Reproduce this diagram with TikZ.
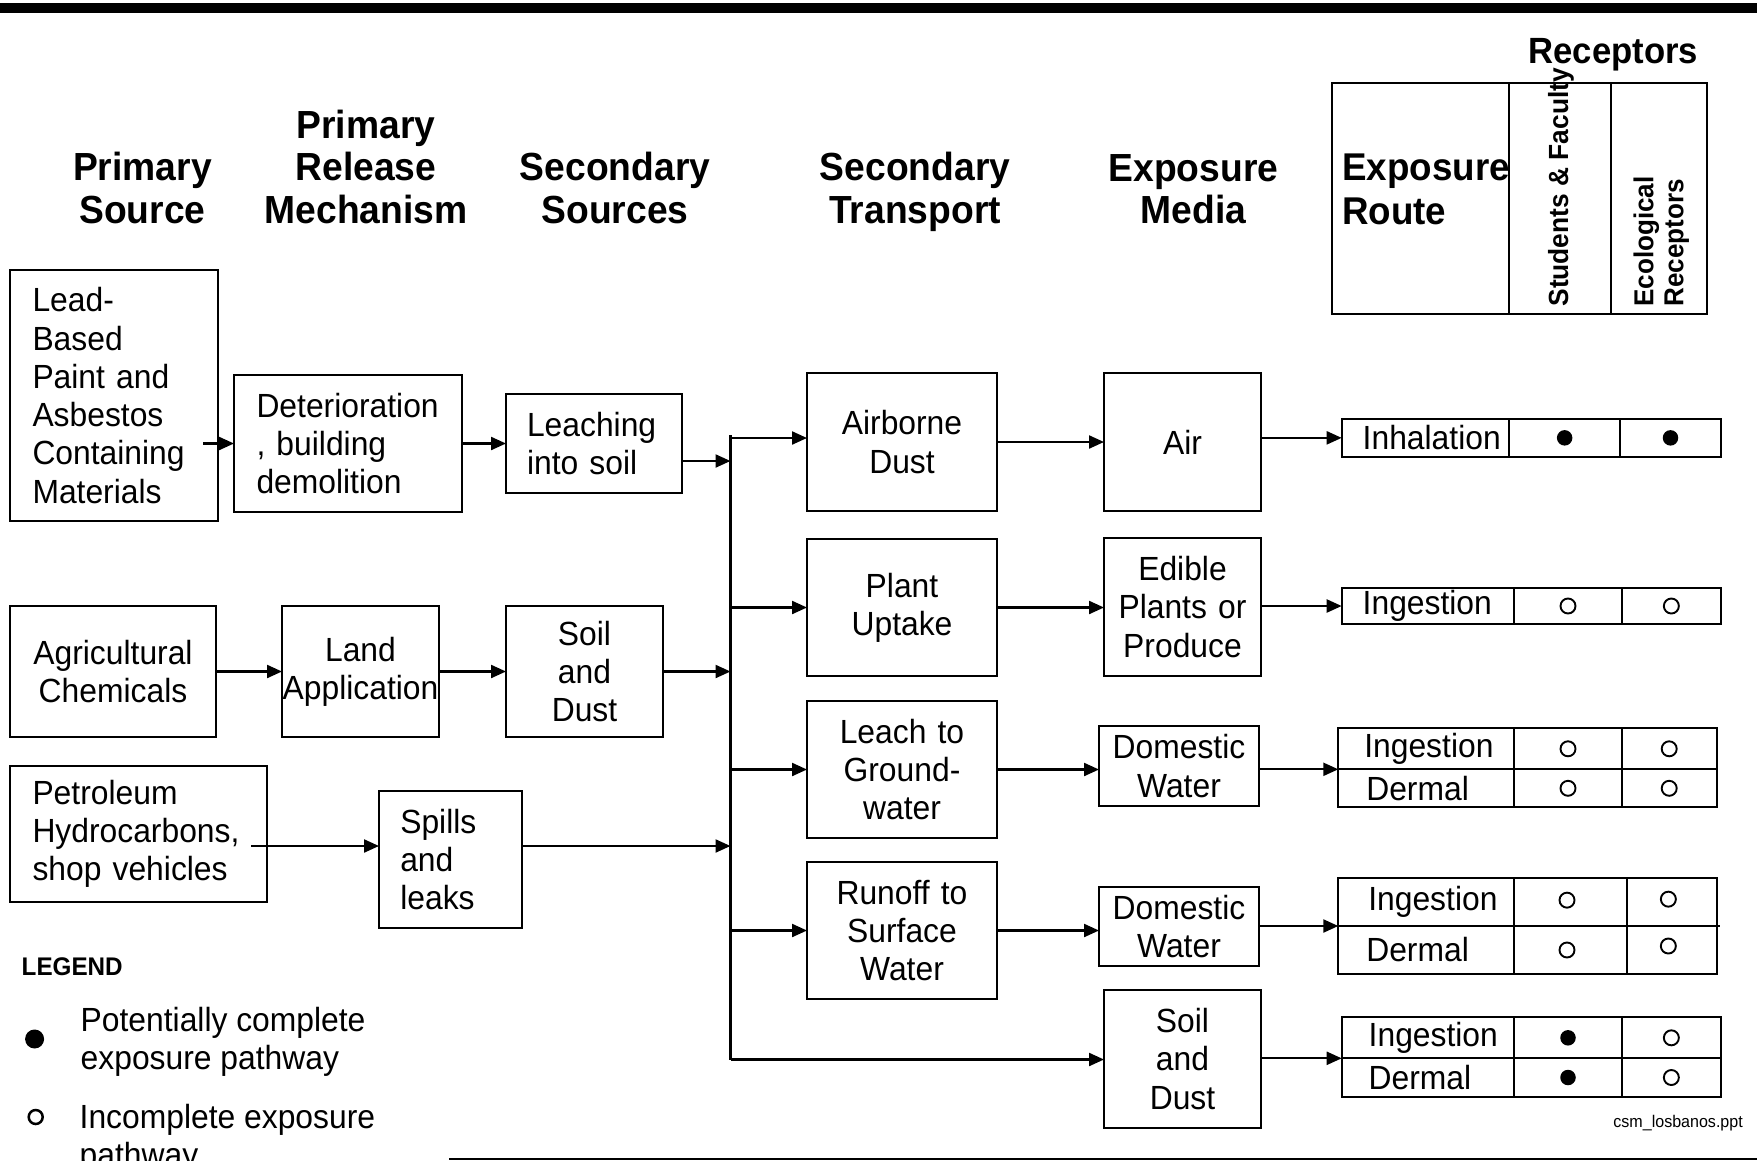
\documentclass[tikz,border=0pt]{standalone}
\usepackage{fontspec}
\setmainfont{Liberation Sans}[FakeStretch=0.95]
\usetikzlibrary{arrows.meta,calc}
\hyphenpenalty=10000 \exhyphenpenalty=10000
\newcommand\mybody{\fontsize{33.5pt}{38.3pt}\selectfont}
\newcommand\myhead{\fontsize{39.2pt}{42.5pt}\selectfont\bfseries}
\begin{document}
\begin{tikzpicture}[x=1pt,y=-1pt,
  lw/.style={line width=2.2pt},
  box/.style={draw, lw, inner sep=0pt, outer sep=0pt, anchor=north west, font=\mybody},
  cbox/.style={box, align=center, inner xsep=0.5pt},
  lbox/.style={box, align=left, inner xsep=22.5pt},
  cell/.style={draw, lw, inner sep=0pt, outer sep=0pt, anchor=north west, font=\mybody},
  lcell/.style={cell, align=left},
  fdot/.style={circle, fill, inner sep=0pt, minimum size=15.5pt},
  odot/.style={circle, draw, line width=1.9pt, inner sep=0pt, minimum size=15pt},
  arr/.style={lw, -{Triangle[length=15pt,width=13pt]}},
  conn/.style={lw},
  hdr/.style={font=\myhead, align=center, inner sep=0pt, anchor=north},
]
\useasboundingbox (0,0) rectangle (1757,1160);
\clip (0,0) rectangle (1757,1160);
\fill (0,2.7) rectangle (1757,13.3);

% column headers
\node[hdr] (hPS)  at (142.5,152.2) {Primary\\Source};
\node[hdr] (hPRM) at (366,109.7) {Primary\\Release\\Mechanism};
\node[hdr] (hSS)  at (615,152.2) {Secondary\\Sources};
\node[hdr] (hST)  at (915,152.2) {Secondary\\Transport};
\node[hdr] (hEM)  at (1193.5,154.2) {Exposure\\Media};
\node[font=\bfseries\fontsize{36.5pt}{40pt}\selectfont, inner sep=0pt, anchor=base] (hRec) at (1613.3,63.3) {Receptors};

% receptor header box
\node[cell, minimum width=177.6pt, minimum height=231.3pt] (hR) at (1331.7,82.7) {};
\node[cell, minimum width=101.7pt, minimum height=231.3pt] (hS) at (1509.3,82.7) {};
\node[cell, minimum width=96.3pt, minimum height=231.3pt] (hE) at (1611,82.7) {};
\node[font=\bfseries\fontsize{38.7pt}{44pt}\selectfont, align=left, inner sep=0pt, anchor=north west] (hRt) at (1342,153.4) {Exposure\\Route};
\node[font=\bfseries\fontsize{27.7pt}{30pt}\selectfont, rotate=90, inner sep=0pt, anchor=base west] (hSt) at (1568,306.7) {Students \& Faculty};
\node[font=\bfseries\fontsize{27.4pt}{30pt}\selectfont, rotate=90, inner sep=0pt, anchor=base west] (hEt1) at (1653.3,306.7) {Ecological};
\node[font=\bfseries\fontsize{27.4pt}{30pt}\selectfont, rotate=90, inner sep=0pt, anchor=base west] (hEt2) at (1683.3,306.7) {Receptors};

% sources and release
\node[lbox, text width=163pt, minimum height=251pt] (lead) at (10,270) {Lead-\\Based\\Paint and\\Asbestos\\Containing\\Materials};
\node[lbox, text width=183pt, minimum height=137pt] (det) at (234,375) {Deterioration\\, building\\demolition};
\node[lbox, inner xsep=21pt, text width=134pt, minimum height=99pt] (leach) at (506,394) {Leaching\\into soil};
\node[cbox, text width=205pt, minimum height=131pt] (agri) at (10,606) {Agricultural\\Chemicals};
\node[cbox, text width=156pt, minimum height=131pt] (land) at (282,606) {Land\\Application};
\node[cbox, text width=156pt, minimum height=131pt] (soil1) at (506,606) {Soil\\and\\Dust};
\node[lbox, text width=212pt, minimum height=136pt] (petro) at (10,766) {Petroleum\\Hydrocarbons,\\shop vehicles};
\node[lbox, inner xsep=21.3pt, text width=100.4pt, minimum height=137pt] (spills) at (379,791) {Spills\\and\\leaks};

% secondary transport
\node[cbox, text width=189pt, minimum height=138pt] (airb) at (807,373) {Airborne\\Dust};
\node[cbox, text width=189pt, minimum height=137pt] (plant) at (807,539) {Plant\\Uptake};
\node[cbox, text width=189pt, minimum height=137pt] (leachgw) at (807,701) {Leach to\\Ground-\\water};
\node[cbox, text width=189pt, minimum height=137pt] (runoff) at (807,862) {Runoff to\\Surface\\Water};

% exposure media
\node[cbox, text width=156pt, minimum height=138pt] (air) at (1104,373) {Air};
\node[cbox, text width=156pt, minimum height=138pt] (edible) at (1104,538) {Edible\\Plants or\\Produce};
\node[cbox, text width=159pt, minimum height=80pt] (dw1) at (1099,726) {Domestic\\Water};
\node[cbox, text width=159pt, minimum height=79pt] (dw2) at (1099,887) {Domestic\\Water};
\node[cbox, text width=156pt, minimum height=138pt] (soilM) at (1104,990) {Soil\\and\\Dust};

% route tables
\node[lcell, text width=167.6pt, minimum height=37.7pt] (t1a) at (1341.7,419) {\hspace*{21pt}Inhalation};
\node[cell, minimum width=110.7pt, minimum height=37.7pt] (t1b) at (1509.3,419) {};
\node[cell, minimum width=101pt, minimum height=37.7pt] (t1c) at (1620,419) {};
\node[fdot] (t1bd) at (t1b) {};
\node[fdot] (t1cd) at (t1c) {};

\node[lcell, text width=172.6pt, minimum height=36.6pt] (t2a) at (1341.7,587.7) {\hspace*{21pt}Ingestion};
\node[cell, minimum width=107.4pt, minimum height=36.6pt] (t2b) at (1514.3,587.7) {};
\node[cell, minimum width=99.3pt, minimum height=36.6pt] (t2c) at (1621.7,587.7) {};
\node[odot] (t2bd) at (t2b) {};
\node[odot] (t2cd) at (t2c) {};

\node[lcell, text width=176pt, minimum height=41pt] (t3a) at (1338.3,728.3) {\hspace*{26pt}Ingestion};
\node[cell, minimum width=107.4pt, minimum height=41pt] (t3b) at (1514.3,728.3) {};
\node[cell, minimum width=95pt, minimum height=41pt] (t3c) at (1621.7,728.3) {};
\node[lcell, text width=176pt, minimum height=38pt] (t3d) at (1338.3,769.3) {\hspace*{28pt}Dermal};
\node[cell, minimum width=107.4pt, minimum height=38pt] (t3e) at (1514.3,769.3) {};
\node[cell, minimum width=95pt, minimum height=38pt] (t3f) at (1621.7,769.3) {};
\node[odot] (t3bd) at (t3b) {};
\node[odot] (t3cd) at (t3c) {};
\node[odot] (t3ed) at (t3e) {};
\node[odot] (t3fd) at (t3f) {};

\node[lcell, text width=176pt, minimum height=47.7pt] (t4a) at (1338.3,878.3) {\hspace*{30pt}Ingestion};
\node[cell, minimum width=112.4pt, minimum height=47.7pt] (t4b) at (1514.3,878.3) {};
\node[cell, minimum width=90.3pt, minimum height=47.7pt] (t4c) at (1626.7,878.3) {};
\node[lcell, text width=176pt, minimum height=48pt] (t4d) at (1338.3,926) {\hspace*{28pt}Dermal};
\node[cell, minimum width=112.4pt, minimum height=48pt] (t4e) at (1514.3,926) {};
\node[cell, minimum width=90.3pt, minimum height=48pt] (t4f) at (1626.7,926) {};
\node[odot] (t4bd) at ($(t4b)+(-3.5,-2)$) {};
\node[odot] (t4cd) at ($(t4c)+(-3.5,-3)$) {};
\node[odot] (t4ed) at ($(t4e)+(-3.5,0)$) {};
\node[odot] (t4fd) at ($(t4f)+(-3.5,-4)$) {};
\draw[lw] (t4c.south east) -- ++(3,0);

\node[lcell, text width=172.6pt, minimum height=41pt] (t5a) at (1341.7,1017.3) {\hspace*{27pt}Ingestion};
\node[cell, minimum width=107.4pt, minimum height=41pt] (t5b) at (1514.3,1017.3) {};
\node[cell, minimum width=99.3pt, minimum height=41pt] (t5c) at (1621.7,1017.3) {};
\node[lcell, text width=172.6pt, minimum height=38.4pt] (t5d) at (1341.7,1058.3) {\hspace*{27pt}Dermal};
\node[cell, minimum width=107.4pt, minimum height=38.4pt] (t5e) at (1514.3,1058.3) {};
\node[cell, minimum width=99.3pt, minimum height=38.4pt] (t5f) at (1621.7,1058.3) {};
\node[fdot] (t5bd) at (t5b) {};
\node[odot] (t5cd) at (t5c) {};
\node[fdot] (t5ed) at (t5e) {};
\node[odot] (t5fd) at (t5f) {};

% connectors
\coordinate (busTop) at (730.5,435);
\coordinate (busBot) at (730.5,1059.5);
\coordinate (a1s) at ($(lead.east)+(-15,0)$);
\draw[arr] (a1s |- det.west) -- (det.west);
\draw[arr] (det.east) -- (det.east -| leach.west);
\coordinate (lchOut) at ($(leach.east)+(0,17.5)$);
\draw[arr] (lchOut) -- (lchOut -| busTop);
\draw[arr] (agri.east) -- (land.west);
\draw[arr] (land.east) -- (soil1.west);
\draw[arr] (soil1.east) -- (soil1.east -| busTop);
\coordinate (pOut) at ($(petro.east)+(-16,12)$);
\draw[arr] (pOut) -- (pOut -| spills.west);
\draw[arr] (pOut -| spills.east) -- (pOut -| busTop);
\draw[conn] (busTop) -- (busBot);
\coordinate (airbIn) at ($(airb.west)+(0,-4)$);
\draw[arr] (airbIn -| busTop) -- (airbIn);
\draw[arr] (plant.west -| busTop) -- (plant.west);
\draw[arr] (leachgw.west -| busTop) -- (leachgw.west);
\draw[arr] (runoff.west -| busTop) -- (runoff.west);
\draw[arr] (busBot) -- (busBot -| soilM.west);
\draw[arr] (airb.east) -- (air.west);
\draw[arr] (plant.east) -- (plant.east -| edible.west);
\draw[arr] (leachgw.east) -- (leachgw.east -| dw1.west);
\draw[arr] (runoff.east) -- (runoff.east -| dw2.west);
\draw[arr] (air.east |- t1a.west) -- (t1a.west);
\draw[arr] (edible.east |- t2a.west) -- (t2a.west);
\draw[arr] (dw1.east |- t3a.south west) -- (t3a.south west);
\draw[arr] (dw2.east |- t4a.south west) -- (t4a.south west);
\draw[arr] (soilM.east |- t5a.south west) -- (t5a.south west);

% legend
\node[font=\bfseries\fontsize{25.5pt}{30pt}\selectfont, inner sep=0pt, anchor=base west] (leg) at (21.5,975) {LEGEND};
\node[circle, fill, inner sep=0pt, minimum size=19pt] (legF) at (34.6,1039) {};
\node[font=\mybody, align=left, inner sep=0pt, anchor=north west] (legFt) at (80.5,1007) {Potentially complete\\exposure pathway};
\node[circle, draw, line width=2.5pt, inner sep=0pt, minimum size=14pt] (legO) at (35.7,1117) {};
\node[font=\mybody, align=left, inner sep=0pt, anchor=north west] (legOt) at (79.5,1104) {Incomplete exposure\\pathway};

\node[font=\fontsize{16.9pt}{19pt}\selectfont, inner sep=0pt, anchor=base east] (csm) at (1743,1127) {csm\_losbanos.ppt};
\coordinate (bl1) at (449,1158.5);
\coordinate (bl2) at (1757,1158.5);
\draw[line width=2pt] (bl1) -- (bl2);
\end{tikzpicture}
\end{document}
